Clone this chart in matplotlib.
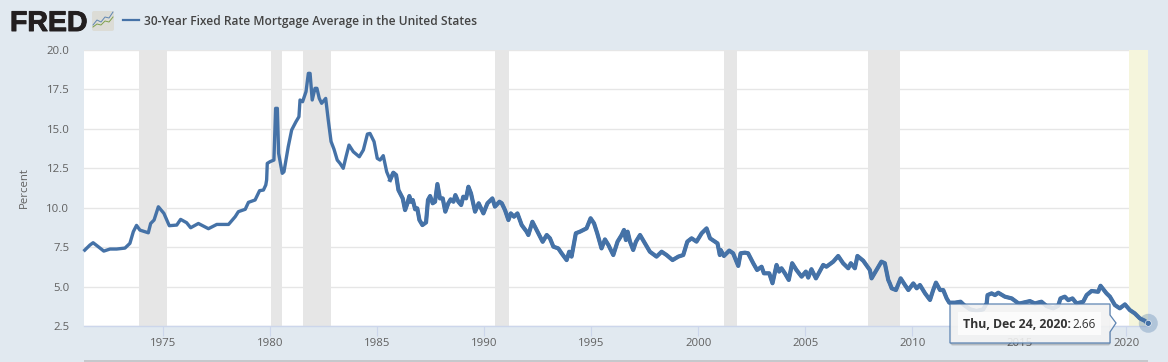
import matplotlib
matplotlib.use("Agg")
import matplotlib.pyplot as plt
import matplotlib.patheffects as pe
from matplotlib.patches import Rectangle, Polygon, Circle, FancyBboxPatch

plt.rcParams['font.family'] = ['Open Sans', 'DejaVu Sans']

# decimal years and percent
years = [
    1971.32, 1971.56, 1971.71, 1971.95, 1972.21, 1972.5, 1972.81, 1973.2, 1973.43, 1973.59,
    1973.74, 1973.9, 1974.29, 1974.4, 1974.56, 1974.76, 1975.02, 1975.27, 1975.62, 1975.8,
    1976.08, 1976.27, 1976.63, 1977.1, 1977.49, 1978.04, 1978.35, 1978.5, 1978.82, 1978.97,
    1979.28, 1979.49, 1979.67, 1979.78,
    1979.82, 1979.85, 1979.98, 1980.16, 1980.24, 1980.32, 1980.38, 1980.55, 1980.63, 1980.83,
    1980.99, 1981.19, 1981.33, 1981.38, 1981.5, 1981.66, 1981.77, 1981.85, 1981.95, 1982.08,
    1982.17, 1982.28, 1982.39, 1982.58, 1982.7, 1982.83, 1982.97, 1983.12, 1983.25, 1983.4,
    1983.53, 1983.67, 1983.87, 1984.15, 1984.34, 1984.53, 1984.65, 1984.84, 1984.99, 1985.12,
    1985.27, 1985.43, 1985.59, 1985.74, 1985.87, 1985.98, 1986.1, 1986.18, 1986.29, 1986.4,
    1986.49, 1986.55, 1986.65, 1986.76, 1986.86, 1986.96, 1987.1, 1987.27, 1987.36, 1987.46,
    1987.58, 1987.69, 1987.8, 1987.92, 1988.05, 1988.17, 1988.31, 1988.42, 1988.55, 1988.64,
    1988.78, 1988.91, 1989.01, 1989.14, 1989.25, 1989.37, 1989.56, 1989.73, 1989.95, 1990.14,
    1990.37, 1990.49, 1990.7, 1990.81, 1990.96, 1991.12, 1991.23, 1991.38, 1991.54, 1991.74,
    1991.97, 1992.05, 1992.24, 1992.44, 1992.72, 1992.91,
    1993.06, 1993.22, 1993.45, 1993.61, 1993.84, 1993.96, 1994.07, 1994.27, 1994.46, 1994.62,
    1994.77, 1994.96, 1995.12, 1995.27, 1995.47, 1995.63, 1995.79, 1996.02, 1996.22, 1996.41,
    1996.52, 1996.61, 1996.69, 1996.8, 1996.95, 1997.08, 1997.27, 1997.5, 1997.73, 1998.04,
    1998.28, 1998.51, 1998.79, 1999.06, 1999.29, 1999.48, 1999.68, 1999.91, 2000.15, 2000.38,
    2000.54, 2000.77, 2000.89, 2001.0,
    2001.04, 2001.19, 2001.44, 2001.62, 2001.86, 2001.97, 2002.17, 2002.32, 2002.56, 2002.74,
    2002.95, 2003.06, 2003.31, 2003.46, 2003.65, 2003.77, 2003.88, 2004.04, 2004.22, 2004.38,
    2004.58, 2004.82, 2005.02, 2005.13, 2005.28, 2005.49, 2005.83, 2005.98, 2006.3, 2006.53,
    2006.76, 2007.0, 2007.12, 2007.31, 2007.43, 2007.7, 2008.01, 2008.09, 2008.32, 2008.55,
    2008.71, 2008.87, 2008.94,
    2009.03, 2009.23, 2009.45, 2009.65, 2009.81, 2010.04, 2010.2, 2010.35, 2010.59, 2010.82,
    2010.97, 2011.1, 2011.29, 2011.44, 2011.6, 2011.72, 2011.99, 2012.25, 2012.41, 2012.69,
    2013.0, 2013.31, 2013.47, 2013.51, 2013.7, 2013.86, 2014.01, 2014.32, 2014.64, 2014.95,
    2015.02, 2015.49, 2015.72, 2016.03, 2016.27, 2016.58, 2016.81, 2016.92, 2017.12, 2017.28,
    2017.48, 2017.67, 2017.98, 2018.14, 2018.37, 2018.68, 2018.79, 2019.07, 2019.23, 2019.46,
    2019.69, 2019.93, 2020.16, 2020.39, 2020.63, 2020.86, 2020.99,
]
rates = [
    7.31, 7.63, 7.78, 7.53, 7.25, 7.38, 7.38, 7.44, 7.74, 8.48,
    8.88, 8.58, 8.41, 9.0, 9.22, 10.06, 9.64, 8.86, 8.9, 9.26,
    9.05, 8.73, 9.0, 8.67, 8.94, 8.94, 9.43, 9.75, 9.9, 10.34,
    10.49, 11.08, 11.12, 11.44,
    11.76, 12.81, 12.92, 13.02, 16.3, 16.3, 13.45, 12.18, 12.28, 13.87,
    14.93, 15.45, 15.77, 16.83, 16.72, 17.36, 18.52, 18.52, 16.83, 17.57,
    17.57, 16.93, 16.62, 16.93, 15.56, 14.2, 13.7, 13.02, 12.81, 12.5,
    13.23, 13.97, 13.55, 13.23, 13.66, 14.67, 14.71, 14.19, 13.13, 13.02,
    13.3, 12.28, 11.76, 12.22, 12.07, 11.12, 10.8, 10.59, 9.85, 10.28,
    10.74, 10.38, 10.49, 9.9, 9.96, 9.22, 8.9, 9.07, 10.49, 10.74,
    10.28, 10.38, 11.5, 10.59, 10.59, 9.75, 10.28, 10.53, 10.38, 10.8,
    10.38, 10.17, 10.7, 10.59, 11.33, 10.91, 9.75, 10.28, 9.64, 10.28,
    10.59, 10.07, 10.38, 10.28, 9.85, 9.22, 9.64, 9.43, 9.64, 8.9,
    8.48, 8.27, 9.11, 8.58, 7.84, 8.27,
    8.06, 7.53, 7.42, 7.1, 6.68, 7.21, 6.9, 8.38, 8.48, 8.59,
    8.69, 9.33, 9.01, 8.38, 7.42, 7.99, 7.64, 7.0, 7.85, 8.27,
    8.59, 7.95, 8.48, 7.85, 7.32, 7.85, 8.27, 7.74, 7.21, 6.9,
    7.21, 7.0, 6.68, 6.9, 7.0, 7.85, 8.06, 7.85, 8.38, 8.69,
    8.06, 7.85, 7.74, 7.0,
    7.32, 6.94, 7.28, 7.11, 6.31, 7.11, 7.15, 7.11, 6.48, 6.05,
    6.26, 5.84, 5.84, 5.21, 6.37, 5.95, 6.16, 5.84, 5.42, 6.48,
    6.05, 5.63, 5.95, 5.57, 6.1, 5.52, 6.37, 6.26, 6.58, 6.94,
    6.48, 6.16, 6.48, 6.16, 6.94, 6.64, 6.05, 5.52, 6.05, 6.58,
    6.48, 5.42, 5.21,
    4.89, 4.78, 5.52, 5.1, 4.78, 5.2, 4.89, 5.1, 4.57, 4.15,
    4.78, 5.25, 4.78, 4.78, 4.25, 3.98, 3.98, 4.04, 3.83, 3.56,
    3.45, 3.56, 3.94, 4.46, 4.57, 4.46, 4.61, 4.36, 4.25, 3.94,
    3.93, 4.08, 3.93, 4.04, 3.76, 3.62, 3.78, 4.25, 4.36, 4.14,
    4.25, 3.93, 4.04, 4.46, 4.72, 4.67, 5.05, 4.57, 4.36, 3.83,
    3.62, 3.87, 3.51, 3.3, 2.98, 2.83, 2.66,
]

recessions = [(1973.86, 1975.17), (1980.01, 1980.52), (1981.5, 1982.85), (1990.5, 1991.14),
              (2001.18, 2001.81), (2007.91, 2009.43)]
covid_band = (2020.12, 2020.99)
xticks = [1975, 1980, 1985, 1990, 1995, 2000, 2005, 2010, 2015, 2020]
yticks = [2.5, 5.0, 7.5, 10.0, 12.5, 15.0, 17.5, 20.0]

W, H = 1168, 362
BG = '#e1e9f0'
BLUE = '#4572a7'
TXT = '#606060'

fig = plt.figure(figsize=(W / 100, H / 100), dpi=100, facecolor=BG)
ax = fig.add_axes([84 / W, 1 - 326 / H, (1147.6 - 84) / W, 276 / H])


def fx(p):
    return p / W


def fy(p):
    return 1 - p / H


ax.set_xlim(1971.285, 2020.99)
ax.set_ylim(2.5, 20)
ax.set_facecolor('white')
for a, b in recessions:
    ax.axvspan(a, b, color='#e6e6e6', lw=0, zorder=1.5)
ax.axvspan(covid_band[0], covid_band[1], color='#f5f5dc', lw=0, zorder=1.5)
ax.grid(axis='y', color='#e6e6e6', lw=1, zorder=1)
ax.set_axisbelow(True)
ax.plot(years, rates, color=BLUE, lw=2.4, solid_joinstyle='round', zorder=3, clip_on=False)
# weekly noise makes the later part of the line look heavier
late = [i for i, y in enumerate(years) if y >= 1985.5]
ax.plot([years[i] for i in late], [rates[i] for i in late], color=BLUE, lw=3.0, solid_joinstyle='round', zorder=3,
        clip_on=False)

for s in ['top', 'right', 'left']:
    ax.spines[s].set_visible(False)
ax.spines['bottom'].set_color('#ccd6eb')
ax.spines['bottom'].set_linewidth(1)
ax.set_xticks(xticks)
ax.set_yticks(yticks)
ax.set_yticklabels(['%.1f' % v for v in yticks])
ax.tick_params(axis='x', length=7.5, width=0.8, color='#ccd6eb', labelcolor=TXT, labelsize=8.2, pad=1.5)
ax.tick_params(axis='y', length=0, labelcolor=TXT, labelsize=8.2, pad=10.5)
ax.set_ylabel('Percent', color=TXT, fontsize=8.2, labelpad=12)

# end point halo
fig.add_artist(Circle((1148.3, H - 323.3), 9.5, transform=None, fc=BLUE, ec='none', alpha=0.3, zorder=4))
fig.add_artist(Circle((1148.3, H - 323.3), 3, transform=None, fc=BLUE, ec='white', lw=0.4, zorder=4))

# header
fred = fig.text(fx(10), fy(31), 'FRED', fontsize=20.5, fontweight='bold', color='#231f20', family='Liberation Sans',
                va='baseline', ha='left')
fred.set_path_effects([pe.withStroke(linewidth=0.7, foreground='#231f20')])
fig.add_artist(FancyBboxPatch((92, H - 31), 22, 20, boxstyle='round,pad=0,rounding_size=2', transform=None,
                              fc='#dcdcd6', ec='none'))
icon_x = [93, 97, 101, 105, 109, 113]
icon_blue = [25, 20, 22, 17, 18, 12]
icon_green = [27, 24, 25, 21, 22, 17]
fig.add_artist(plt.Line2D(icon_x, [H - v for v in icon_blue], transform=None, color='#5f86b3', lw=0.7))
fig.add_artist(plt.Line2D(icon_x, [H - v for v in icon_green], transform=None, color='#7ea04d', lw=0.7))
fig.add_artist(plt.Line2D([123, 139], [H - 20, H - 20], transform=None, color=BLUE, lw=1.6))
fig.text(fx(144), fy(25), '30-Year Fixed Rate Mortgage Average in the United States', fontsize=8.65,
         fontweight='semibold', color='#444444')

# tooltip
fig.add_artist(FancyBboxPatch((951, H - 345), 159, 40, boxstyle='round,pad=0,rounding_size=2', transform=None,
                              fc='#000000', ec='#000000', lw=1, alpha=0.12, zorder=5))
fig.add_artist(Polygon([(950, H - 304), (1110, H - 304), (1110, H - 315), (1116, H - 323), (1110, H - 332),
                        (1110, H - 343), (950, H - 343)], closed=True, transform=None, fc='#f7f7f7', ec=BLUE,
                       lw=0.9, alpha=0.87, zorder=5))
fig.add_artist(Rectangle((958, H - 335), 143, 23, transform=None, fc='white', ec='none', alpha=0.75, zorder=5))
fig.text(fx(963), fy(328), 'Thu, Dec 24, 2020:', fontsize=8.85, fontweight='bold', color='#333333', zorder=6)
fig.text(fx(1072), fy(328), '2.66', fontsize=8.5, color='#333333', zorder=6)

# navigator edge at the bottom
fig.add_artist(Rectangle((84, 0), 1064, 2, transform=None, fc='#c5c8cc', ec='none', zorder=1))

fig.savefig('out.png', dpi=100, facecolor=BG)
